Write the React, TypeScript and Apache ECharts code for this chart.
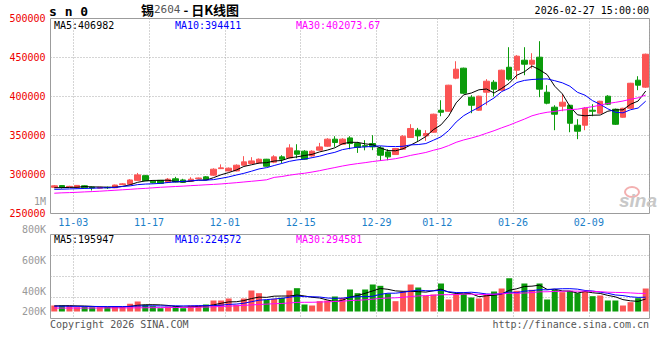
import React, { useEffect, useRef } from "react";
import * as echarts from "echarts";

const dates = [
  "10-30","10-31",
  "11-03","11-04","11-05","11-06","11-07","11-10","11-11","11-12","11-13","11-14",
  "11-17","11-18","11-19","11-20","11-21","11-24","11-25","11-26","11-27","11-28",
  "12-01","12-02","12-03","12-04","12-05","12-08","12-09","12-10","12-11","12-12",
  "12-15","12-16","12-17","12-18","12-19","12-22","12-23","12-24","12-25","12-26",
  "12-29","12-30","12-31",
  "01-05","01-06","01-07","01-08","01-09","01-12","01-13","01-14","01-15","01-16",
  "01-19","01-20","01-21","01-22","01-23","01-26","01-27","01-28","01-29","01-30",
  "02-02","02-03","02-04","02-05","02-06","02-09","02-10","02-11","02-12","02-13",
  "02-24","02-25","02-26","02-27",
];
const labeledDates = ["11-03","11-17","12-01","12-15","12-29","01-12","01-26","02-09"];

const opens = [
  283500,285800,284000,283200,285500,284000,282500,283500,283000,287000,
  287500,292500,298500,291500,292500,290000,294500,293000,291500,294500,
  297000,299100,307500,304600,304600,311900,314100,314900,319600,315800,
  322600,321300,330300,329900,323800,331200,336300,345300,338800,346900,
  339700,337000,339700,334100,329000,325600,332400,347400,356800,349500,
  354200,382400,381100,423500,436300,399100,382400,405500,418300,408100,
  437500,433700,446500,441400,450400,405500,386300,387600,388800,363200,
  363200,382400,378600,400400,383700,373400,384900,420900,412000,
];
const closes = [
  285500,283500,284800,286000,283000,282800,283500,283000,286500,288000,
  293000,299500,292000,289500,288500,294000,290500,290000,294000,295500,
  293500,306800,308500,308100,311900,316200,317400,319600,310600,322600,
  319600,334100,326000,319600,329900,335400,345300,341000,345300,339700,
  334600,336000,335400,324700,322600,333300,349100,359000,349500,352600,
  377300,379800,414500,435000,404200,388800,400400,419600,409300,433700,
  422200,451700,441400,446500,409400,391400,377300,392700,365700,355500,
  385000,381100,393900,390100,364400,384900,417000,414500,454200,
];
const lows = [
  282500,282000,283500,282500,282000,279500,282000,281500,282500,286500,
  287000,292000,291500,288500,288000,289000,290000,289500,291000,294000,
  293000,298000,307000,304000,304000,311500,313500,314000,310000,314500,
  314500,320500,320900,319000,323000,330500,335500,335400,338000,332400,
  327700,331000,331200,317400,318300,325000,332000,346900,343100,343100,
  353500,374700,380500,422200,403000,378600,381500,388800,400000,407500,
  420000,422200,427300,435800,399100,390000,356800,381100,354200,345300,
  356800,374700,378000,389000,363500,372800,384000,408100,411000,
];
const highs = [
  286500,286500,285500,286500,286000,284500,284000,284500,287000,289000,
  294000,302000,299500,292500,293000,295500,297000,294500,296500,296000,
  298000,308000,313000,309000,313000,323500,322200,320500,320000,324700,
  324700,338800,338800,331200,331000,340500,346500,349100,346500,349100,
  341800,344000,350400,336300,332400,334000,350400,364500,359700,356800,
  378000,395200,415000,445200,437000,401700,401000,422200,421000,434500,
  463200,453000,463200,455500,470900,414500,388800,403000,389000,370900,
  386300,390100,394500,401700,384500,385500,417500,426000,455000,
];
const ma5Head = [283000, 283200, 283400, 283600];
const ma10Head = [281000, 281200, 281500, 281800, 282100, 282400, 282700, 283000, 283300];
const ma30Head = [
  276000,276500,276800,277200,277700,278100,278600,279200,279800,280400,
  281000,281700,282200,282900,283600,284100,284600,285100,285700,286200,
  286800,287300,287900,288700,289500,290400,291300,292200,293200,
];

const volumes = [
  96000,96000,96000,69000,80000,69000,69000,69000,80000,69000,
  123000,160000,107000,85000,53000,80000,85000,53000,96000,96000,
  112000,176000,176000,208000,107000,208000,336000,293000,187000,203000,
  219000,336000,373000,112000,96000,165000,176000,240000,219000,352000,
  293000,352000,432000,411000,288000,165000,320000,432000,384000,251000,
  272000,448000,192000,277000,283000,224000,208000,267000,320000,368000,
  533000,331000,448000,347000,448000,192000,347000,309000,331000,293000,
  320000,245000,256000,176000,176000,96000,149000,213000,368000,
];
const volMa5Head = [90000, 92000, 93000, 90000];
const volMa10Head = [85000, 85000, 84000, 83000, 82000, 81000, 80000, 79000, 80000];
const volMa30Head = [
  55000,55000,55000,55000,55000,56000,56000,57000,57000,58000,
  58000,59000,60000,61000,62000,63000,64000,65000,67000,69000,
  71000,75000,80000,86000,92000,98000,105000,112000,118000,
];

const priceMaLabels = ["MA5:406982", "MA10:394411", "MA30:402073.67"];
const volMaLabels = ["MA5:195947", "MA10:224572", "MA30:294581"];
const volTickLabels = ["800K", "600K", "400K", "200K"];
const volTickLabelY = [229, 260, 291, 311];

const MONO = '"DejaVu Sans Mono", "Liberation Mono", monospace';
const RED = "#fb5454";
const GREEN = "#0b9b0b";
const GRID_GRAY = "#ababab";
const BORDER_GRAY = "#9c9c9c";

function movingAvg(vals: number[], n: number, head: number[]): number[] {
  return vals.map((_, i) => {
    if (i < n - 1) return head[i];
    let s = 0;
    for (let k = i - n + 1; k <= i; k++) s += vals[k];
    return Math.round(s / n);
  });
}

export default function App() {
  const ref = useRef<HTMLDivElement>(null);
  useEffect(() => {
    const chart = echarts.init(ref.current!, null, { renderer: "svg" });
    const labeled = new Set(labeledDates);
    const candleData = dates.map((_, i) => [opens[i], closes[i], lows[i], highs[i]]);
    const volData = volumes.map((v, i) => ({
      value: v,
      itemStyle: { color: closes[i] >= opens[i] ? RED : GREEN },
    }));
    const VOL_RANGE = 1344000;
    const VOL_MIN = -112000;
    const VOL_MAX = VOL_MIN + VOL_RANGE;
    const slot = 599 / dates.length;

    const xCommon = (gridIndex: number, showLabel: boolean) => ({
      type: "category",
      gridIndex,
      data: dates,
      boundaryGap: true,
      axisLine: { show: false },
      axisTick: { show: false },
      axisLabel: {
        show: showLabel,
        interval: (_i: number, v: string) => labeled.has(v),
        color: "#1b80c9",
        fontFamily: MONO,
        fontSize: 10,
        margin: 4,
        padding: [0, 0, 0, slot],
      },
      splitLine: {
        show: true,
        interval: (i: number) => i > 0 && labeled.has(dates[i - 1]),
        lineStyle: { color: GRID_GRAY, width: 1, type: [1, 2] },
      },
    });

    const lineS = (name: string, data: number[], color: string, x: number, y: number) => ({
      type: "line",
      name,
      xAxisIndex: x,
      yAxisIndex: y,
      data,
      symbol: "none",
      lineStyle: { color, width: 1 },
      z: 5,
    });

    const txt = (text: string, x: number, y: number, fill: string, align = "left", font = `10px ${MONO}`) => ({
      type: "text",
      x,
      y,
      z: 100,
      style: { text, fill, font, align, verticalAlign: "middle" },
    });

    const option: any = {
      animation: false,
      backgroundColor: "#ffffff",
      grid: [
        { left: 50.5, top: 18.5, width: 599, height: 195, show: true, borderColor: BORDER_GRAY, borderWidth: 1 },
        { left: 50.5, top: 234.5, width: 599, height: 84, show: true, borderColor: BORDER_GRAY, borderWidth: 1 },
      ],
      xAxis: [xCommon(0, true), xCommon(1, false)],
      yAxis: [
        {
          type: "value",
          gridIndex: 0,
          min: 250000,
          max: 500000,
          interval: 50000,
          axisLine: { show: false },
          axisTick: { show: false },
          axisLabel: {
            color: "#ee0000",
            fontFamily: MONO,
            fontSize: 10,
            margin: 5,
            padding: [0, 0, 4, 0],
            formatter: (v: number) => String(v),
          },
          splitLine: { show: true, showMinLine: false, showMaxLine: false, lineStyle: { color: GRID_GRAY, type: [1, 2] } },
        },
        {
          type: "value",
          gridIndex: 1,
          min: VOL_MIN,
          max: VOL_MAX,
          interval: VOL_RANGE / 4,
          axisLine: { show: false },
          axisTick: { show: false },
          axisLabel: { show: false },
          splitLine: { show: true, showMinLine: false, showMaxLine: false, lineStyle: { color: GRID_GRAY, type: [1, 2] } },
        },
      ],
      series: [
        {
          type: "candlestick",
          xAxisIndex: 0,
          yAxisIndex: 0,
          data: candleData,
          barWidth: 6,
          itemStyle: { color: RED, color0: GREEN, borderColor: RED, borderColor0: GREEN, borderWidth: 1 },
          z: 3,
        },
        lineS("MA5", movingAvg(closes, 5, ma5Head), "#000000", 0, 0),
        lineS("MA10", movingAvg(closes, 10, ma10Head), "#0000ff", 0, 0),
        lineS("MA30", movingAvg(closes, 30, ma30Head), "#ff00ff", 0, 0),
        {
          type: "bar",
          xAxisIndex: 1,
          yAxisIndex: 1,
          data: volData,
          barWidth: 6,
          z: 3,
        },
        lineS("VMA5", movingAvg(volumes, 5, volMa5Head), "#000000", 1, 1),
        lineS("VMA10", movingAvg(volumes, 10, volMa10Head), "#0000ff", 1, 1),
        lineS("VMA30", movingAvg(volumes, 30, volMa30Head), "#ff00ff", 1, 1),
      ],
      graphic: [
        txt("s n 0", 49, 11, "#000", "left", `bold 13px ${MONO}`),
        {
          type: "text",
          x: 141,
          y: 9,
          z: 100,
          style: {
            text: "{a|锡}{b|2604}{a| - 日K线图}",
            verticalAlign: "middle",
            rich: {
              a: { font: 'bold 13px "Noto Sans CJK SC", sans-serif', fill: "#000" },
              b: { font: `11px ${MONO}`, fill: "#555" },
            },
          },
        },
        txt("2026-02-27 15:00:00", 649, 10, "#000", "right"),
        txt(priceMaLabels[0], 54, 25, "#000"),
        txt(priceMaLabels[1], 175, 25, "#0000ff"),
        txt(priceMaLabels[2], 296, 25, "#ff00ff"),
        txt(volMaLabels[0], 54, 239, "#000"),
        txt(volMaLabels[1], 175, 239, "#0000ff"),
        txt(volMaLabels[2], 296, 239, "#ff00ff"),
        txt("1M", 46, 201, "#999", "right"),
        ...volTickLabels.map((t, i) => txt(t, 46, volTickLabelY[i], "#999", "right")),
        txt("Copyright 2026 SINA.COM", 50, 324, "#555"),
        txt("http://finance.sina.com.cn", 649, 324, "#555", "right"),
        {
          type: "ellipse",
          z: 90,
          shape: { cx: 632, cy: 192, rx: 7, ry: 5 },
          style: { fill: "none", stroke: "#f3b0b0", lineWidth: 2 },
        },
        txt("sina", 619, 200, "#c8c8c8", "left", 'italic bold 19px "Liberation Sans", sans-serif'),
      ],
    };
    chart.setOption(option);
    return () => chart.dispose();
  }, []);
  return (
    <div
      ref={ref}
      style={{ position: "fixed", left: 0, top: 0, width: 660, height: 360, background: "#fff" }}
    />
  );
}
